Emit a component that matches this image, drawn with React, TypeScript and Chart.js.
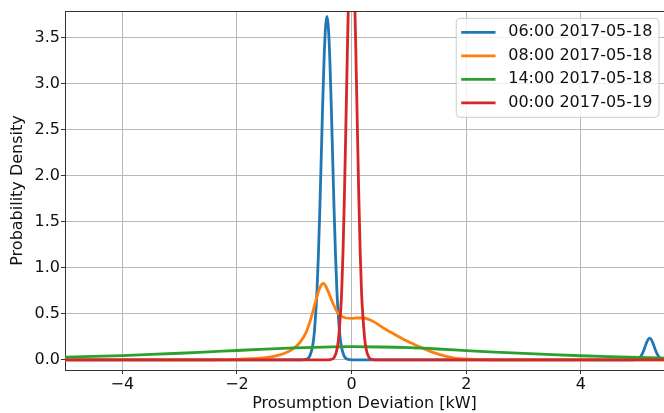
import React, { useEffect, useRef } from "react";
import { Chart, registerables } from "chart.js";

Chart.register(...registerables);

const seriesLabels = ["06:00 2017-05-18", "08:00 2017-05-18", "14:00 2017-05-18", "00:00 2017-05-19"];
const seriesColors = ["#1f77b4", "#ff7f0e", "#2ca02c", "#d62728"];
const xTicks = [-4, -2, 0, 2, 4];
const yTicks = [0, 0.5, 1, 1.5, 2, 2.5, 3, 3.5];
const xLabel = "Prosumption Deviation [kW]";
const yLabel = "Probability Density";

const blueX = [-5, -1.0, -0.93, -0.83, -0.78, -0.73, -0.68, -0.655, -0.63, -0.605, -0.58, -0.555, -0.53, -0.505, -0.48, -0.455, -0.43, -0.405, -0.38, -0.355, -0.33, -0.305, -0.28, -0.255, -0.23, -0.205, -0.18, -0.13, -0.08, -0.03, 0.07, 4.85, 4.95, 5.0, 5.05, 5.1, 5.15, 5.2, 5.25, 5.3, 5.35, 5.4, 5.45, 5.5];
const blueY = [0, 0, 0, 0.002, 0.01, 0.04, 0.15, 0.27, 0.47, 0.73, 1.13, 1.62, 2.19, 2.77, 3.27, 3.61, 3.73, 3.61, 3.27, 2.77, 2.19, 1.62, 1.13, 0.73, 0.47, 0.27, 0.15, 0.04, 0.01, 0.002, 0, 0, 0.002, 0.01, 0.041, 0.108, 0.194, 0.236, 0.194, 0.108, 0.041, 0.01, 0.002, 0];

const orangeX = [-5, -3, -2.5, -2, -1.75, -1.5, -1.25, -1.1, -1.0, -0.9, -0.8, -0.75, -0.7, -0.63, -0.57, -0.52, -0.49, -0.45, -0.4, -0.35, -0.3, -0.25, -0.19, -0.1, 0, 0.1, 0.2, 0.3, 0.4, 0.5, 0.6, 0.7, 0.8, 0.9, 1.0, 1.1, 1.25, 1.38, 1.5, 1.67, 1.8, 1.96, 2.2, 2.5, 3, 5.5];
const orangeY = [0, 0, 0.001, 0.005, 0.012, 0.025, 0.055, 0.09, 0.13, 0.19, 0.29, 0.37, 0.47, 0.63, 0.76, 0.82, 0.83, 0.8, 0.73, 0.65, 0.58, 0.52, 0.48, 0.455, 0.45, 0.455, 0.455, 0.44, 0.41, 0.37, 0.33, 0.295, 0.26, 0.225, 0.195, 0.165, 0.125, 0.09, 0.065, 0.036, 0.02, 0.01, 0.003, 0.001, 0, 0];

const greenX = [-5, -4.5, -4, -3.5, -3, -2.5, -2, -1.5, -1, -0.5, 0, 0.5, 1, 1.5, 2, 2.5, 3, 3.5, 4, 4.5, 5, 5.5];
const greenY = [0.029, 0.037, 0.047, 0.059, 0.072, 0.087, 0.102, 0.117, 0.13, 0.139, 0.143, 0.14, 0.132, 0.118, 0.101, 0.085, 0.07, 0.057, 0.045, 0.035, 0.026, 0.019];

const redX = [-5, -0.5, -0.4, -0.35, -0.3, -0.25, -0.225, -0.2, -0.175, -0.15, -0.125, -0.1, -0.075, -0.05, -0.025, 0, 0.025, 0.05, 0.075, 0.1, 0.125, 0.15, 0.175, 0.2, 0.225, 0.25, 0.3, 0.35, 0.4, 0.5, 5.5];
const redY = [0, 0, 0.001, 0.007, 0.03, 0.13, 0.25, 0.45, 0.71, 1.17, 1.79, 2.54, 3.32, 4.03, 4.52, 4.7, 4.52, 4.03, 3.32, 2.54, 1.79, 1.17, 0.71, 0.45, 0.25, 0.13, 0.03, 0.007, 0.001, 0, 0];

const seriesX = [blueX, orangeX, greenX, redX];
const seriesY = [blueY, orangeY, greenY, redY];

const FONT = "'DejaVu Sans', sans-serif";
const FS = 16;

const minus = (v: number) => (v < 0 ? "\u2212" + String(Math.abs(v)) : String(v));

const framePlugin = {
  id: "frameTop",
  afterDatasetsDraw(chart: any) {
    const { ctx, chartArea } = chart;
    ctx.save();
    ctx.strokeStyle = "#333";
    ctx.lineWidth = 1;
    ctx.beginPath();
    ctx.moveTo(chartArea.left, chartArea.top + 0.5);
    ctx.lineTo(chartArea.right, chartArea.top + 0.5);
    ctx.stroke();
    ctx.restore();
  },
};

const legendPlugin = {
  id: "innerLegend",
  afterDraw(chart: any) {
    const { ctx, chartArea } = chart;
    ctx.save();
    ctx.font = `${FS}px ${FONT}`;
    const textW = Math.max(...seriesLabels.map((l) => ctx.measureText(l).width));
    const boxW = 5 + 34.3 + 12.7 + textW + 6.6;
    const boxH = 99;
    const right = chartArea.right - 5;
    const left = right - boxW;
    const top = chartArea.top + 7.3;
    const r = 4;
    ctx.beginPath();
    ctx.moveTo(left + r, top);
    ctx.lineTo(left + boxW - r, top);
    ctx.quadraticCurveTo(left + boxW, top, left + boxW, top + r);
    ctx.lineTo(left + boxW, top + boxH - r);
    ctx.quadraticCurveTo(left + boxW, top + boxH, left + boxW - r, top + boxH);
    ctx.lineTo(left + r, top + boxH);
    ctx.quadraticCurveTo(left, top + boxH, left, top + boxH - r);
    ctx.lineTo(left, top + r);
    ctx.quadraticCurveTo(left, top, left + r, top);
    ctx.closePath();
    ctx.fillStyle = "rgba(255,255,255,0.8)";
    ctx.fill();
    ctx.strokeStyle = "#cccccc";
    ctx.lineWidth = 1;
    ctx.stroke();
    seriesLabels.forEach((label, i) => {
      const y = top + 14 + i * 23.5;
      ctx.strokeStyle = seriesColors[i];
      ctx.lineWidth = 2.8;
      ctx.lineCap = "butt";
      ctx.beginPath();
      ctx.moveTo(left + 5, y);
      ctx.lineTo(left + 39.3, y);
      ctx.stroke();
      ctx.fillStyle = "#111";
      ctx.textAlign = "left";
      ctx.textBaseline = "middle";
      ctx.fillText(label, left + 52, y);
    });
    ctx.restore();
  },
};

export default function App() {
  const ref = useRef<HTMLCanvasElement>(null);
  useEffect(() => {
    const canvas = ref.current;
    if (!canvas) return;
    const drawOrder = [3, 2, 1, 0];
    const chart = new Chart(canvas, {
      type: "line",
      data: {
        datasets: seriesLabels.map((label, i) => ({
          label,
          data: seriesX[i].map((x, j) => ({ x, y: seriesY[i][j] })),
          borderColor: seriesColors[i],
          backgroundColor: seriesColors[i],
          borderWidth: 2.8,
          pointRadius: 0,
          pointHoverRadius: 0,
          cubicInterpolationMode: "monotone",
          fill: false,
          clip: 0,
          order: drawOrder[i],
          borderJoinStyle: "round",
        })),
      },
      options: {
        responsive: false,
        animation: false,
        events: [],
        layout: { padding: { top: 11, right: 0, left: 0, bottom: 0 } },
        plugins: {
          legend: { display: false },
          tooltip: { enabled: false },
        },
        scales: {
          x: {
            type: "linear",
            min: -5,
            max: 5.45,
            afterBuildTicks: (s: any) => {
              s.ticks = xTicks.map((v) => ({ value: v }));
            },
            afterFit: (s: any) => {
              s.height = 43;
            },
            ticks: {
              callback: (v: any) => minus(Number(v)),
              font: { family: FONT, size: FS },
              color: "#111",
              padding: 1,
              maxRotation: 0,
              autoSkip: false,
            },
            grid: {
              color: "#b8b8b8",
              lineWidth: 1,
              tickLength: 4,
              tickColor: "#333",
              tickWidth: 1,
            },
            border: { display: true, color: "#333", width: 1 },
            title: {
              display: true,
              text: xLabel,
              font: { family: FONT, size: FS },
              color: "#111",
              padding: { top: 0, bottom: 0 },
            },
          },
          y: {
            type: "linear",
            min: -0.11,
            max: 3.79,
            afterBuildTicks: (s: any) => {
              s.ticks = yTicks.map((v) => ({ value: v }));
            },
            afterFit: (s: any) => {
              s.width = 65;
            },
            ticks: {
              callback: (v: any) => Number(v).toFixed(1),
              font: { family: FONT, size: FS },
              color: "#111",
              padding: 1,
              autoSkip: false,
            },
            grid: {
              color: "#b8b8b8",
              lineWidth: 1,
              tickLength: 4,
              tickColor: "#333",
              tickWidth: 1,
            },
            border: { display: true, color: "#333", width: 1 },
            title: {
              display: true,
              text: yLabel,
              font: { family: FONT, size: FS },
              color: "#111",
              padding: { top: 8.5, bottom: 0 },
            },
          },
        },
      },
      plugins: [framePlugin, legendPlugin],
    } as any);
    return () => chart.destroy();
  }, []);
  return (
    <div style={{ position: "absolute", left: 0, top: 0, width: 664, height: 413, background: "#fff" }}>
      <canvas ref={ref} width={664} height={413} style={{ display: "block" }} />
    </div>
  );
}
